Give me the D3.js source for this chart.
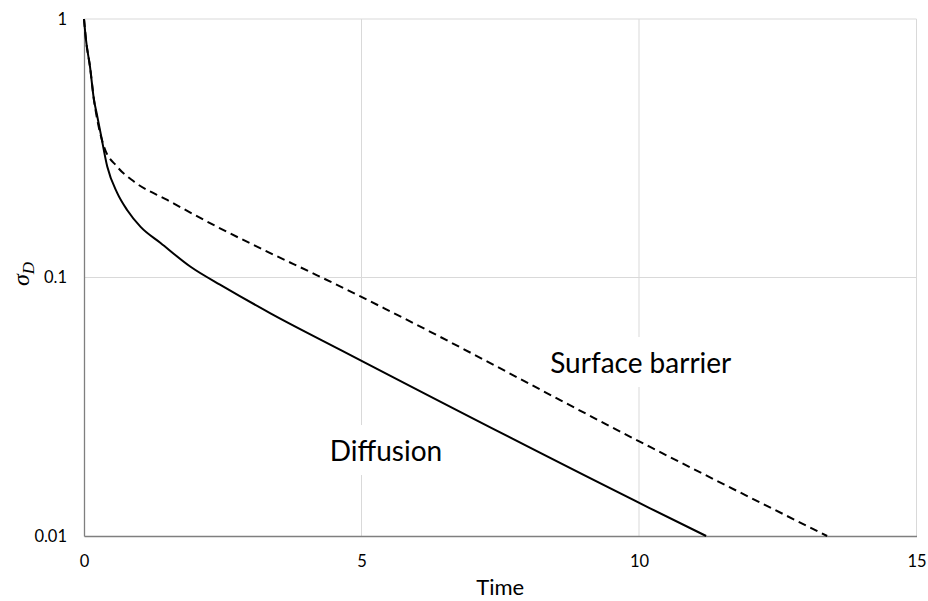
<!DOCTYPE html>
<html>
<head>
<meta charset="utf-8">
<script src="https://cdnjs.cloudflare.com/ajax/libs/d3/7.8.5/d3.min.js"></script>
<style>
  body { margin: 0; background: #fff; }
  svg { font-family: Lato, "Open Sans", sans-serif; }
</style>
</head>
<body>
<script>
// values (time, sigma_D)
var diffusionTime  = [0, 0.036, 0.108, 0.18, 0.228, 0.30, 0.42, 0.60, 0.78, 1.02, 1.38, 1.92, 2.52, 3.36, 4.62, 10.20, 11.21];
var diffusionSigma = [1, 0.83, 0.654, 0.486, 0.432, 0.361, 0.268, 0.212, 0.182, 0.157, 0.136, 0.110, 0.092, 0.0727, 0.0525, 0.0128, 0.01];

var barrierTime  = [0, 0.036, 0.108, 0.18, 0.24, 0.36, 0.60, 0.90, 1.50, 2.40, 3.30, 4.20, 4.99, 5.41, 10.20, 13.39];
var barrierSigma = [1, 0.83, 0.654, 0.486, 0.407, 0.321, 0.268, 0.235, 0.1995, 0.157, 0.126, 0.102, 0.0843, 0.076, 0.0221, 0.01];

var xTicks = [0, 5, 10, 15];
var yTicks = [0.01, 0.1, 1];

var width = 928, height = 601;
var margin = {top: 19, right: 11.5, bottom: 65, left: 84};
var w = width - margin.left - margin.right,
    h = height - margin.top - margin.bottom;

var svg = d3.select("body").append("svg")
    .attr("width", width)
    .attr("height", height);

var g = svg.append("g")
    .attr("transform", "translate(" + margin.left + "," + margin.top + ")");

var x = d3.scaleLinear().domain([0, 15]).range([0, w]);
var y = d3.scaleLog().domain([0.01, 1]).range([h, 0]);

// gridlines
g.append("g")
    .selectAll("line")
    .data(xTicks.slice(1))
    .enter().append("line")
        .attr("x1", function(d) { return x(d); })
        .attr("x2", function(d) { return x(d); })
        .attr("y1", 0).attr("y2", h)
        .attr("stroke", "#d9d9d9");
g.append("g")
    .selectAll("line")
    .data(yTicks.slice(1))
    .enter().append("line")
        .attr("x1", 0).attr("x2", w)
        .attr("y1", function(d) { return y(d); })
        .attr("y2", function(d) { return y(d); })
        .attr("stroke", "#d9d9d9");

// axes
var xAxis = g.append("g")
    .attr("transform", "translate(0," + h + ")")
    .call(d3.axisBottom(x).tickValues(xTicks).tickSize(0).tickPadding(19).tickFormat(d3.format("d")));
var yAxis = g.append("g")
    .call(d3.axisLeft(y).tickValues(yTicks).tickSize(0).tickPadding(17).tickFormat(function(d) { return String(d); }));

[xAxis, yAxis].forEach(function(a) {
    a.select(".domain").attr("stroke", "#7f7f7f").attr("stroke-width", 1.3);
    a.selectAll("text")
        .style("font-family", "Lato, sans-serif")
        .style("font-size", "16.5px")
        .attr("fill", "#000");
});

// curves
var line = d3.line()
    .x(function(d) { return x(d[0]); })
    .y(function(d) { return y(d[1]); })
    .curve(d3.curveMonotoneX);

g.append("path")
    .datum(d3.zip(barrierTime, barrierSigma))
    .attr("d", line)
    .attr("fill", "none")
    .attr("stroke", "#000")
    .attr("stroke-width", 2)
    .attr("stroke-dasharray", "8,5");

g.append("path")
    .datum(d3.zip(diffusionTime, diffusionSigma))
    .attr("d", line)
    .attr("fill", "none")
    .attr("stroke", "#000")
    .attr("stroke-width", 2);

// labels with white boxes
function label(txt, t, v) {
    var lg = g.append("g");
    var tx = lg.append("text")
        .attr("x", x(t))
        .attr("y", y(v))
        .style("font-size", "28px")
        .text(txt);
    var bb = tx.node().getBBox();
    lg.insert("rect", "text")
        .attr("x", bb.x - 8).attr("y", bb.y - 8)
        .attr("width", bb.width + 16).attr("height", bb.height + 16)
        .attr("fill", "#fff");
}
label("Surface barrier", 8.40, 0.0427);
label("Diffusion", 4.43, 0.0195);

// axis titles
svg.append("text")
    .attr("x", margin.left + w / 2)
    .attr("y", 595)
    .attr("text-anchor", "middle")
    .style("font-size", "22px")
    .text("Time");

var yl = svg.append("text")
    .attr("transform", "translate(29,274) rotate(-90)")
    .attr("text-anchor", "middle")
    .style("font-family", "'Liberation Serif', serif")
    .style("font-style", "italic")
    .style("font-size", "24px");
yl.append("tspan").text("σ");
yl.append("tspan").attr("dy", 5).style("font-size", "17px").text("D");
</script>
</body>
</html>
